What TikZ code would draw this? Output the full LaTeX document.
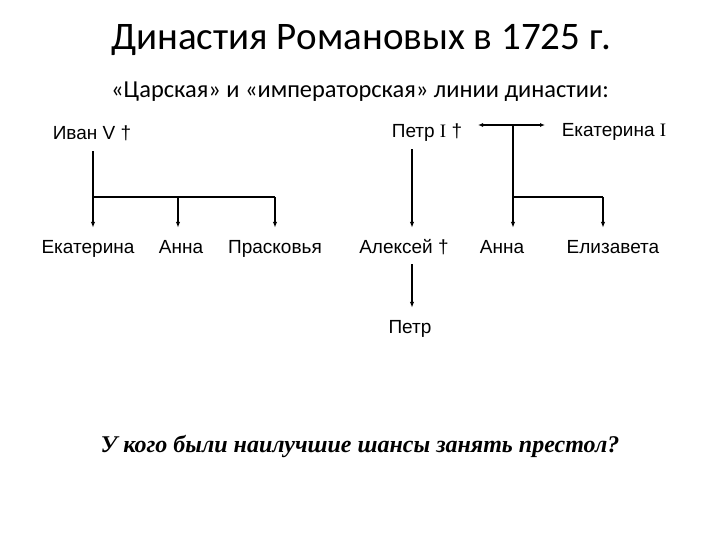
\documentclass[tikz,border=0pt]{standalone}
\usepackage{fontspec}
\setmainfont{Liberation Sans}
\newfontfamily\titlefont{Carlito}
\newfontfamily\romfont{Liberation Serif}
\usetikzlibrary{arrows.meta}
\begin{document}
\begin{tikzpicture}[x=1pt,y=-1pt,
  person/.style={font=\fontsize{19}{22}\selectfont, anchor=base,
    text height=14pt, text depth=0pt, inner xsep=1pt, inner ysep=11pt},
  line/.style={line width=1.3pt},
  link/.style={line width=1.3pt, -{Latex[length=6pt,width=4.5pt]}}]
  \useasboundingbox (0,0) rectangle (720,540);
  % headings
  \node[font=\titlefont\fontsize{39}{44}\selectfont, anchor=base] (title) at (361,50) {Династия Романовых в 1725 г.};
  \node[font=\titlefont\fontsize{24.4}{28}\selectfont, anchor=base] (lines) at (360,98) {«Царская» и «императорская» линии династии:};
  % tsar line
  \node[person] (ivan) at (92,140) {Иван V †};
  \node[person] (ekaterina) at (88,253) {Екатерина};
  \node[person] (anna) at (181,253) {Анна};
  \node[person] (praskovya) at (275,253) {Прасковья};
  \coordinate (ivanj) at (93,197);
  \draw[line] (ivanj |- ivan.south) -- (ivanj) -- (praskovya.north |- ivanj);
  \draw[link] (ivanj) -- (ivanj |- ekaterina.north);
  \draw[link] (178,197) -- (178,0 |- anna.north);
  \draw[link] (praskovya.north |- ivanj) -- (praskovya.north);
  % imperial line
  \node[person] (petr) at (427,138) {Петр {\romfont I} †};
  \node[person] (ekaterinaI) at (614,137) {Екатерина {\romfont I}};
  \node[person] (aleksey) at (404,253) {Алексей †};
  \node[person] (anna2) at (502,253) {Анна};
  \node[person] (elizaveta) at (613,253) {Елизавета};
  \node[person] (petr2) at (410,333) {Петр};
  \coordinate (marriage) at (513,125);
  \coordinate (daughters) at (513,197);
  \coordinate (eliz) at (603,197);
  \draw[line, {Latex[length=5pt,width=4pt]}-{Latex[length=5pt,width=4pt]}] (478,125) -- (545,125);
  \draw[link] (412,0 |- petr.south) -- (412,0 |- aleksey.north);
  \draw[line] (marriage) -- (daughters) -- (eliz);
  \draw[link] (daughters) -- (daughters |- anna2.north);
  \draw[link] (eliz) -- (eliz |- elizaveta.north);
  \draw[link] (412,0 |- aleksey.south) -- (412,0 |- petr2.north);
  % question
  \node[font=\romfont\bfseries\itshape\fontsize{24}{28}\selectfont, anchor=base] (question) at (360,452) {У кого были наилучшие шансы занять престол?};
\end{tikzpicture}
\end{document}
